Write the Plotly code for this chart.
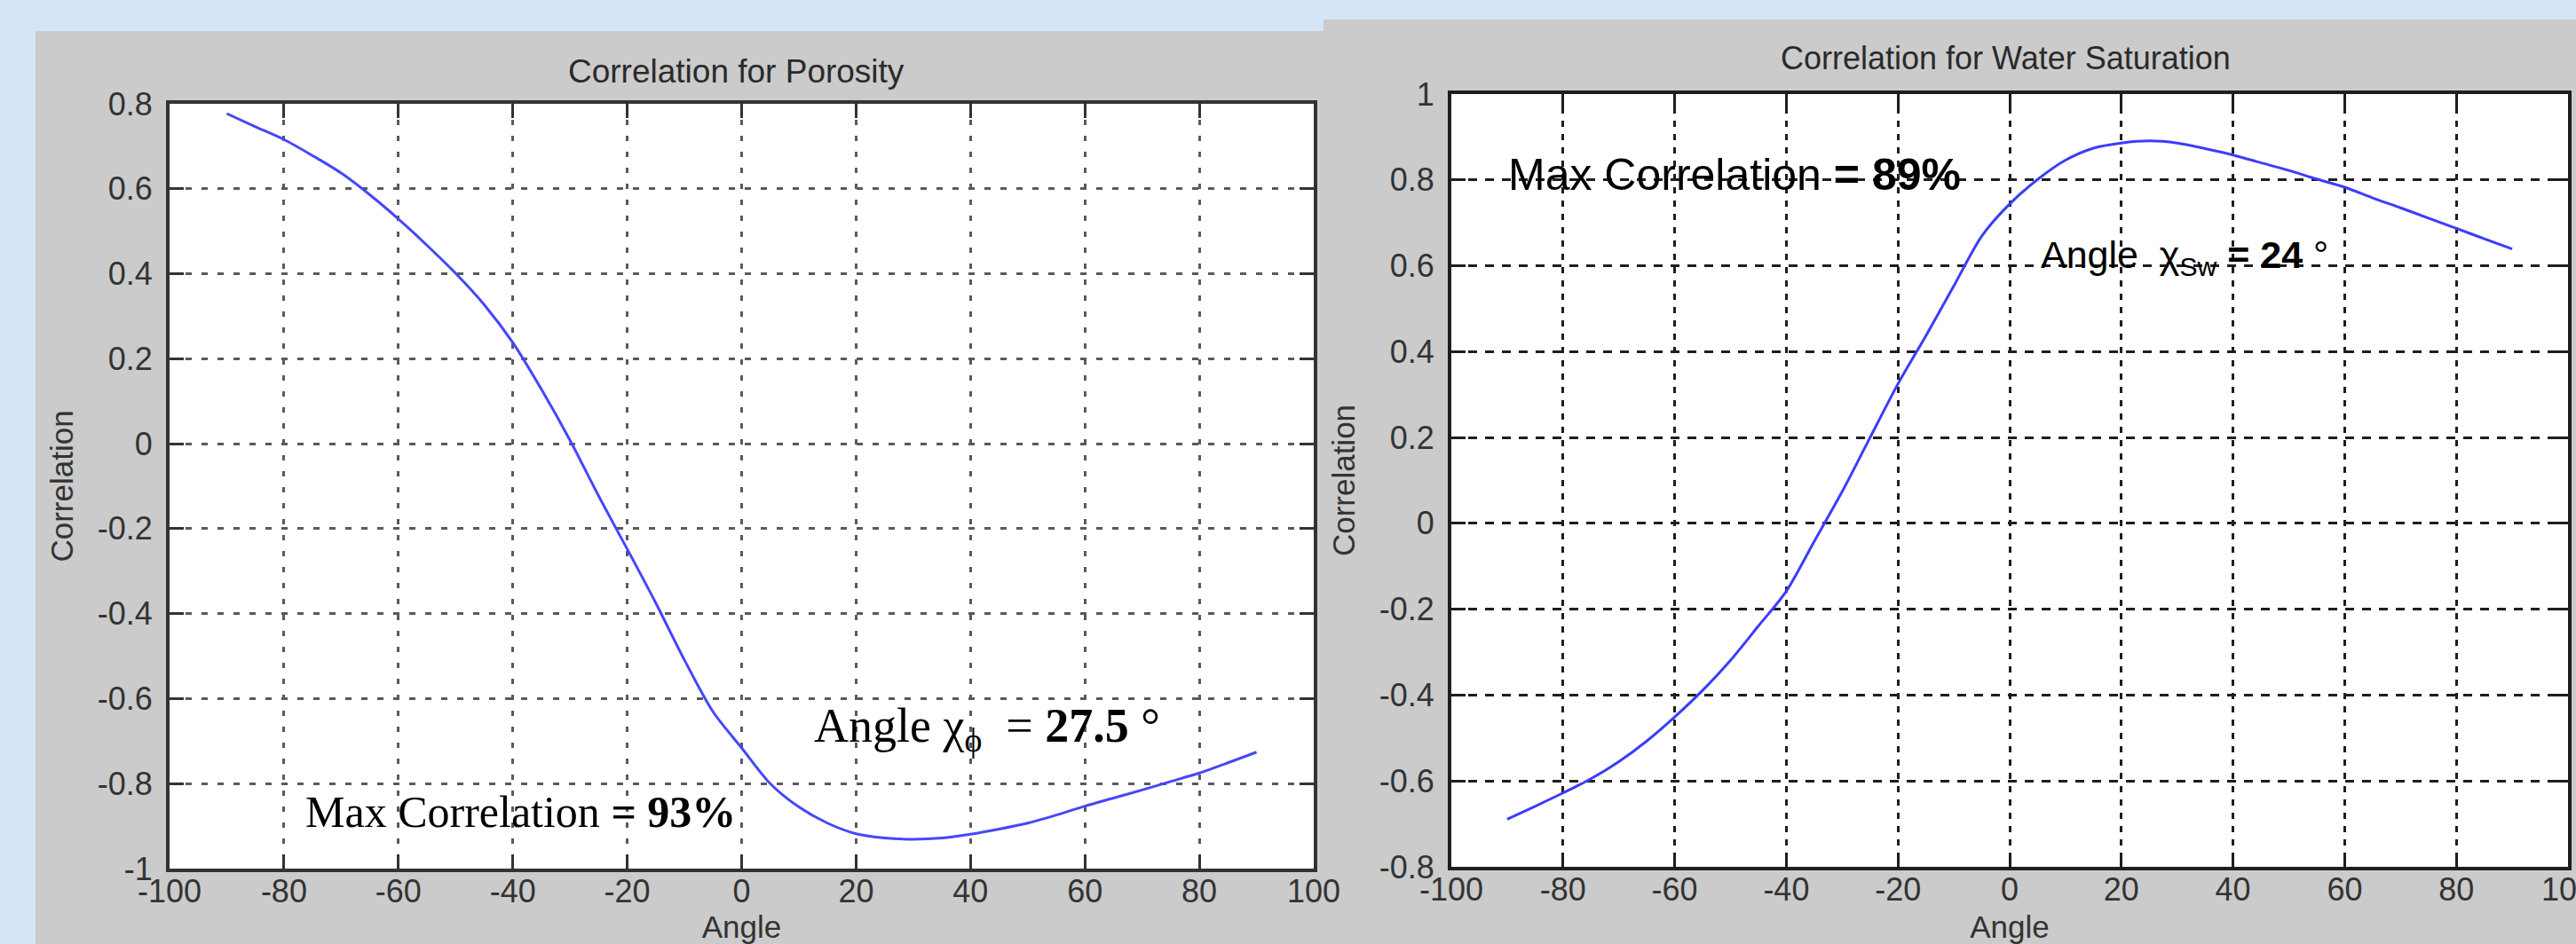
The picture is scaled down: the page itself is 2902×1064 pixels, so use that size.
import plotly.graph_objects as go

# ---------------- data ----------------
angle = [-90, -85, -80, -75, -70, -65, -60, -55, -50, -45, -40, -35, -30, -25, -20, -15, -10, -5,
         0, 5, 10, 15, 20, 25, 30, 35, 40, 45, 50, 55, 60, 65, 70, 75, 80, 85, 90]
corr_porosity = [0.777, 0.746, 0.716, 0.678, 0.637, 0.586, 0.529, 0.467, 0.401, 0.327, 0.238, 0.128,
                 0.008, -0.123, -0.248, -0.375, -0.509, -0.631, -0.716, -0.800, -0.855, -0.893,
                 -0.918, -0.928, -0.931, -0.928, -0.919, -0.907, -0.893, -0.874, -0.853, -0.834,
                 -0.815, -0.795, -0.775, -0.751, -0.726]
corr_sw = [-0.689, -0.659, -0.628, -0.595, -0.555, -0.507, -0.451, -0.389, -0.319, -0.239, -0.158,
           -0.042, 0.074, 0.200, 0.325, 0.437, 0.553, 0.669, 0.744, 0.801, 0.846, 0.874, 0.886,
           0.891, 0.886, 0.873, 0.858, 0.840, 0.822, 0.802, 0.783, 0.758, 0.735, 0.711, 0.687,
           0.663, 0.639]

x_ticks = [-100, -80, -60, -40, -20, 0, 20, 40, 60, 80, 100]
x_ticktext = ["-100", "-80", "-60", "-40", "-20", "0", "20", "40", "60", "80", "100"]
y_ticks_por = [-1, -0.8, -0.6, -0.4, -0.2, 0, 0.2, 0.4, 0.6, 0.8]
y_ticktext_por = ["-1", "-0.8", "-0.6", "-0.4", "-0.2", "0", "0.2", "0.4", "0.6", "0.8"]
y_ticks_sw = [-0.8, -0.6, -0.4, -0.2, 0, 0.2, 0.4, 0.6, 0.8, 1]
y_ticktext_sw = ["-0.8", "-0.6", "-0.4", "-0.2", "0", "0.2", "0.4", "0.6", "0.8", "1"]

title_por = "Correlation for Porosity"
title_sw = "Correlation for Water Saturation"
x_title = "Angle"
y_title = "Correlation"

# ---------------- layout geometry (pixels) ----------------
W, H = 2902, 1064
L_PLOT = (191, 1480, 117, 979)   # left, right, top, bottom
R_PLOT = (1635, 2893, 106, 977)


def px_x(p):
    return p / W


def px_y(p):
    return 1 - p / H


SANS = "Liberation Sans, Arial, sans-serif"
SERIF = "Liberation Serif, Times New Roman, serif"
GRAY = "#cbcbcb"
NB = "\u00a0"

fig = go.Figure()
fig.add_trace(go.Scatter(x=angle, y=corr_porosity, mode="lines",
                         line=dict(color="#4646ff", width=3, shape="spline", smoothing=0.8),
                         xaxis="x", yaxis="y", hoverinfo="skip"))
fig.add_trace(go.Scatter(x=angle, y=corr_sw, mode="lines",
                         line=dict(color="#3c3cff", width=3, shape="spline", smoothing=0.8),
                         xaxis="x2", yaxis="y2", hoverinfo="skip"))


def axis_style(grid_color, dash, line_color, standoff):
    return dict(
        automargin=False,
        showline=True, linecolor=line_color, linewidth=4, mirror="ticks",
        ticks="inside", ticklen=16, tickwidth=3, tickcolor=line_color,
        showgrid=True, gridcolor=grid_color, gridwidth=3, griddash=dash,
        zeroline=False, tickangle=0, ticklabelstandoff=standoff,
        ticklabeloverflow="allow",
        tickfont=dict(family=SANS, size=36, color="#333333"),
    )


fig.update_layout(
    template="none",
    width=W, height=H, autosize=False,
    margin=dict(l=0, r=0, t=0, b=0, pad=0, autoexpand=False),
    paper_bgcolor="#d3e5f6",
    plot_bgcolor="white",
    showlegend=False,
    hovermode=False,
    xaxis=dict(domain=[px_x(L_PLOT[0]), px_x(L_PLOT[1])], range=[-100, 100],
               tickmode="array", tickvals=x_ticks, ticktext=x_ticktext,
               title=dict(text=x_title, font=dict(family=SANS, size=35, color="#333333"), standoff=19),
               anchor="y", **axis_style("#5a5a5a", "6px,12px", "#333333", -9)),
    yaxis=dict(domain=[px_y(L_PLOT[3]), px_y(L_PLOT[2])], range=[-1, 0.8],
               tickmode="array", tickvals=y_ticks_por, ticktext=y_ticktext_por,
               title=dict(text=y_title, font=dict(family=SANS, size=35, color="#333333"), standoff=18),
               anchor="x", **axis_style("#5a5a5a", "7px,11px", "#333333", 8)),
    xaxis2=dict(domain=[px_x(R_PLOT[0]), px_x(R_PLOT[1])], range=[-100, 100],
                tickmode="array", tickvals=x_ticks, ticktext=x_ticktext,
                title=dict(text=x_title, font=dict(family=SANS, size=35, color="#333333"), standoff=19),
                anchor="y2", **axis_style("#1e1e1e", "7px,8px", "#1e1e1e", -9)),
    yaxis2=dict(domain=[px_y(R_PLOT[3]), px_y(R_PLOT[2])], range=[-0.8, 1],
                tickmode="array", tickvals=y_ticks_sw, ticktext=y_ticktext_sw,
                title=dict(text=y_title, font=dict(family=SANS, size=35, color="#333333"), standoff=18),
                anchor="x2", **axis_style("#1e1e1e", "10px,9px", "#1e1e1e", 8)),
)

# figure panels (gray MATLAB windows) and white plot areas
shapes = [
    dict(type="rect", xref="paper", yref="paper", layer="below",
         x0=px_x(40), x1=px_x(1491), y0=0, y1=px_y(35), fillcolor=GRAY, line=dict(width=0)),
    dict(type="rect", xref="paper", yref="paper", layer="below",
         x0=px_x(1491), x1=1, y0=0, y1=px_y(22), fillcolor=GRAY, line=dict(width=0)),
    dict(type="rect", xref="paper", yref="paper", layer="below",
         x0=px_x(L_PLOT[0]), x1=px_x(L_PLOT[1]), y0=px_y(L_PLOT[3]), y1=px_y(L_PLOT[2]),
         fillcolor="white", line=dict(width=0)),
    dict(type="rect", xref="paper", yref="paper", layer="below",
         x0=px_x(R_PLOT[0]), x1=px_x(R_PLOT[1]), y0=px_y(R_PLOT[3]), y1=px_y(R_PLOT[2]),
         fillcolor="white", line=dict(width=0)),
]
fig.update_layout(shapes=shapes)

annotations = [
    dict(text=title_por, xref="paper", yref="paper", x=px_x(829), y=px_y(80),
         xanchor="center", yanchor="middle", showarrow=False,
         font=dict(family=SANS, size=37, color="#2a2a2a")),
    dict(text=title_sw, xref="paper", yref="paper", x=px_x(2259), y=px_y(66),
         xanchor="center", yanchor="middle", showarrow=False,
         font=dict(family=SANS, size=36, color="#2a2a2a")),
    dict(text="Max Correlation <b>= 93%</b>", xref="x", yref="y", x=-76.6, y=-0.867,
         xanchor="left", yanchor="middle", showarrow=False,
         font=dict(family=SERIF, size=50, color="black")),
    dict(text="Angle χ<sub>ϕ</sub>" + NB + NB + "= <b>27.5</b> °", xref="x", yref="y", x=12.3, y=-0.672,
         xanchor="left", yanchor="middle", showarrow=False,
         font=dict(family=SERIF, size=54, color="black")),
    dict(text="Max Correlation <b>= 89%</b>", xref="x2", yref="y2", x=-90.1, y=0.812,
         xanchor="left", yanchor="middle", showarrow=False,
         font=dict(family=SANS, size=50, color="black")),
    dict(text="Angle" + NB + NB + "χ<sub>Sw</sub> <b>= 24</b>" + NB + "°", xref="x2", yref="y2", x=5.2, y=0.62,
         xanchor="left", yanchor="middle", showarrow=False,
         font=dict(family=SANS, size=43, color="black")),
]
fig.update_layout(annotations=annotations)

fig.write_html("out.html", config={"displayModeBar": False},
               post_script="document.body.style.margin='0';document.body.style.overflow='hidden';")
